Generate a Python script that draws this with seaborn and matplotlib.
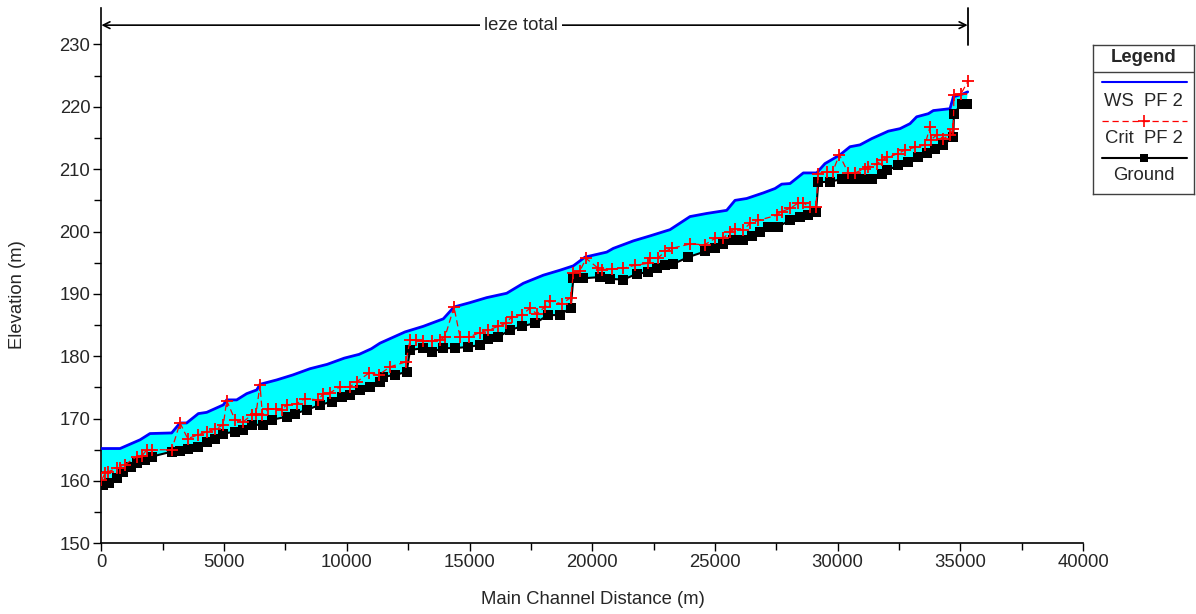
import numpy as np
import pandas as pd
import matplotlib
matplotlib.use("Agg")
import matplotlib.pyplot as plt
import seaborn as sns

# ---------------- data ----------------
ground_dist = [50, 300, 620, 893, 1200, 1438, 1777, 2050, 2865, 3203, 3543, 3950, 4290, 4630, 4970,
               5445, 5783, 6123, 6600, 6940, 7550, 7890, 8366, 8908, 9385, 9793, 10130, 10540, 10945,
               11350, 11488, 11964, 12441, 12576, 13118, 13460, 13933, 14400, 14952, 15428, 15766,
               16174, 16650, 17126, 17669, 18212, 18688, 19124, 19231, 19638, 20318, 20726, 21268,
               21813, 22287, 22628, 22967, 23305, 23916, 24597, 25004, 25343, 25750, 26158, 26500,
               26838, 27177, 27584, 28061, 28468, 28807, 29120, 29214, 29691, 30168, 30600, 30982,
               31390, 31797, 32001, 32475, 32882, 33290, 33630, 33969, 34309, 34716, 34740, 35057, 35261]
ground_elev = [159.4, 159.6, 160.4, 161.5, 162.3, 162.8, 163.4, 163.9, 164.7, 164.8, 165.2, 165.5, 166.3, 166.8, 167.6,
               167.9, 168.2, 169.0, 169.0, 169.8, 170.3, 170.8, 171.4, 172.2, 172.7, 173.5, 173.8, 174.6, 175.1,
               175.9, 176.7, 177.0, 177.5, 181.0, 181.3, 180.7, 181.3, 181.3, 181.5, 181.8, 182.7,
               183.1, 184.2, 184.8, 185.3, 186.6, 186.6, 187.8, 192.5, 192.5, 192.7, 192.4, 192.3,
               193.2, 193.5, 194.1, 194.7, 194.8, 195.9, 196.8, 197.3, 198.0, 198.6, 198.7, 199.3,
               200.0, 200.8, 200.8, 201.8, 202.3, 202.6, 203.2, 207.9, 208.0, 208.4, 208.4, 208.5,
               208.5, 209.3, 209.8, 210.6, 211.2, 212.0, 212.6, 213.3, 213.9, 215.2, 218.9, 220.5, 220.5]

ws_dist = [0, 760, 1577, 1980, 2864, 3203, 3475, 3950, 4290, 4970, 5105, 5513, 5920, 6330, 6463, 7143,
           7800, 8500, 9200, 9900, 10500, 11000, 11353, 12372, 13118, 13933, 14368, 15020, 15700, 16515,
           17193, 18008, 18688, 19231, 19707, 20591, 20861, 21406, 21676, 22356, 23171, 23986, 24666,
           25481, 25820, 26296, 26975, 27450, 27722, 28061, 28604, 29147, 29487, 30098, 30506, 30913,
           31390, 32067, 32543, 32950, 33222, 33697, 33901, 34580, 34716, 35123, 35302]
ws_elev = [165.2, 165.2, 166.6, 167.6, 167.7, 169.3, 169.3, 170.8, 171.0, 172.2, 173.0, 173.0, 174.0, 174.6, 175.5, 176.2,
           177.0, 178.0, 178.7, 179.7, 180.3, 181.2, 182.1, 183.9, 184.8, 186.0, 187.9, 188.6, 189.4, 190.1,
           191.7, 193.0, 193.8, 194.5, 195.9, 196.7, 197.3, 198.1, 198.5, 199.3, 200.3, 202.4, 202.9,
           203.4, 205.0, 205.3, 206.2, 206.9, 207.6, 207.7, 209.4, 209.4, 210.9, 212.3, 213.6, 213.9,
           214.9, 216.1, 216.5, 217.3, 218.4, 218.9, 219.4, 219.7, 221.6, 222.1, 222.4]

crit_dist = [0, 147, 282, 620, 750, 962, 1438, 1650, 1845, 2050, 2865, 3203, 3515, 3950, 4316, 4630, 4970,
             5105, 5445, 5783, 6123, 6300, 6463, 6560, 6803, 7100, 7346, 7550, 7958, 8297, 8840, 9043,
             9300, 9723, 10130, 10404, 10900, 11300, 11760, 12412, 12576, 12800, 13118, 13460, 13795,
             14000, 14368, 14612, 14992, 15428, 15766, 16174, 16488, 16720, 17126, 17465, 17737, 18077,
             18281, 18757, 19124, 19231, 19503, 19748, 20249, 20400, 20794, 21268, 21745, 22287, 22356,
             22695, 22967, 23240, 23986, 24597, 25004, 25343, 25615, 25820, 26158, 26431, 26770, 27518,
             27722, 28061, 28400, 28604, 28875, 29120, 29214, 29555, 29800, 30070, 30437, 30710, 31117,
             31252, 31594, 31797, 32027, 32475, 32747, 33154, 33561, 33765, 33800, 34037, 34309, 34580,
             34716, 34740, 35030, 35326]
crit_elev = [160.1, 161.2, 161.5, 162.0, 162.1, 162.6, 163.9, 164.0, 165.0, 165.0, 165.0, 169.3, 166.8, 167.4, 167.9, 168.3, 169.0,
             172.9, 169.8, 169.5, 170.6, 170.8, 175.4, 170.6, 171.6, 171.6, 171.4, 172.2, 172.4, 173.2, 173.0, 174.0,
             174.1, 175.1, 175.1, 175.9, 177.3, 177.0, 178.3, 179.1, 182.6, 182.6, 182.4, 182.4, 182.6,
             183.1, 187.9, 183.1, 183.1, 183.8, 184.2, 184.8, 185.3, 186.3, 186.6, 187.7, 186.8, 187.9,
             188.9, 188.4, 189.4, 193.4, 193.7, 195.7, 194.1, 193.9, 194.0, 194.1, 194.6, 194.9, 195.7,
             195.8, 196.8, 197.3, 198.0, 197.9, 198.9, 198.9, 200.0, 200.4, 200.3, 201.3, 201.8, 202.6,
             203.2, 203.7, 204.6, 204.6, 203.9, 204.0, 209.3, 209.6, 209.6, 212.3, 209.4, 209.4, 210.1,
             210.4, 210.8, 211.5, 211.9, 212.5, 213.1, 213.5, 213.9, 216.8, 214.7, 215.5, 214.9, 215.5,
             216.5, 221.9, 222.1, 224.2]

x_ticks = [0, 5000, 10000, 15000, 20000, 25000, 30000, 35000, 40000]
y_ticks = [150, 160, 170, 180, 190, 200, 210, 220, 230]
legend_labels = ["WS  PF 2", "Crit  PF 2", "Ground"]
reach_label = "leze total"
reach_start, reach_end = 0, 35300

# ---------------- plot ----------------
sns.set_style("white")
plt.rcParams["font.family"] = ["Liberation Sans", "DejaVu Sans"]
FS = 13.3

W, H = 1196, 614
fig = plt.figure(figsize=(W / 100, H / 100), dpi=100)
ax = fig.add_axes([101.4 / W, 1 - 543.3 / H, (1083 - 101.4) / W, (543.3 - 8) / H])

gdf = pd.DataFrame({"dist": ground_dist, "elev": ground_elev})
wdf = pd.DataFrame({"dist": ws_dist, "elev": ws_elev})
cdf = pd.DataFrame({"dist": crit_dist, "elev": crit_elev})

# water fill between WS and ground
ax.fill(np.concatenate([wdf["dist"].values, gdf["dist"].values[::-1]]),
        np.concatenate([wdf["elev"].values, gdf["elev"].values[::-1]]),
        color="#00FFFF", lw=0, zorder=1)

sns.lineplot(data=wdf, x="dist", y="elev", sort=False, estimator=None, ax=ax,
             color="#0000FF", lw=2, zorder=3)
sns.lineplot(data=gdf, x="dist", y="elev", sort=False, estimator=None, ax=ax,
             color="black", lw=1.5, marker="s", markersize=7, markeredgewidth=0,
             markerfacecolor="black", markeredgecolor="black", zorder=4)
sns.lineplot(data=cdf, x="dist", y="elev", sort=False, estimator=None, ax=ax,
             color="#FF0000", lw=0.9, linestyle=(0, (5, 3)), marker="+", markersize=8,
             markeredgewidth=1.3, markeredgecolor="#FF0000", markerfacecolor="#FF0000",
             zorder=5)

ax.set_xlim(0, 40000)
ax.set_ylim(150, 235.85)
ax.set_xticks(x_ticks)
ax.set_yticks(y_ticks)
ax.set_xticks(np.arange(2500, 40000, 5000), minor=True)
ax.set_yticks(np.arange(155, 235, 10), minor=True)
ax.set_xticklabels([str(t) for t in x_ticks])
ax.set_yticklabels([str(t) for t in y_ticks])
ax.tick_params(axis="both", which="both", direction="out", color="black", width=1,
               labelsize=FS, pad=2, bottom=True, left=True)
ax.tick_params(which="major", length=6)
ax.tick_params(which="minor", length=5)
for s in ["top", "right"]:
    ax.spines[s].set_visible(False)
for s in ["left", "bottom"]:
    ax.spines[s].set_color("black")
    ax.spines[s].set_linewidth(1.2)

ax.set_xlabel("Main Channel Distance (m)", fontsize=FS)
ax.set_ylabel("Elevation (m)", fontsize=FS)
ax.xaxis.set_label_coords(0.5003, (543.3 - 600) / 535.3)
ax.xaxis.label.set_va("center")
ax.yaxis.set_label_coords((18 - 101.4) / 981.6, (543.3 - 295) / 535.3)
ax.yaxis.label.set_va("center")

# reach annotation
ya = 233.1
ax.annotate("", xy=(reach_start, ya), xytext=(reach_end, ya),
            arrowprops=dict(arrowstyle="<->", color="black", lw=1.2, shrinkA=0, shrinkB=0,
                            mutation_scale=12), annotation_clip=False)
ax.plot([reach_end, reach_end], [229.9, 235.85], color="black", lw=1.3, clip_on=False)
ax.text(17100, ya, reach_label, ha="center", va="center", fontsize=FS,
        bbox=dict(facecolor="white", edgecolor="none", pad=3))

# legend box (pixel-like coordinates)
lx0, ly0, lx1, ly1 = 1093, 45, 1194, 194
lax = fig.add_axes([lx0 / W, 1 - ly1 / H, (lx1 - lx0) / W, (ly1 - ly0) / H])
lax.set_xlim(0, lx1 - lx0)
lax.set_ylim(ly1 - ly0, 0)
lax.set_xticks([])
lax.set_yticks([])
for s in lax.spines.values():
    s.set_visible(True)
    s.set_color("#404040")
    s.set_linewidth(1)
lax.axhline(72 - ly0, color="#404040", lw=1)
cx = (lx1 - lx0) / 2
lax.text(cx, 58 - ly0, "Legend", ha="center", va="center", fontsize=FS, fontweight="bold")
xs = [1102 - lx0, 1187 - lx0]
lax.plot(xs, [82 - ly0] * 2, color="#0000FF", lw=1.5)
lax.text(cx, 102 - ly0, legend_labels[0], ha="center", va="center", fontsize=FS)
lax.plot(xs, [121 - ly0] * 2, color="#FF0000", lw=0.9, linestyle=(0, (5, 3)))
lax.plot([cx], [121 - ly0], color="#FF0000", marker="+", markersize=8, mew=1.2)
lax.text(cx, 139 - ly0, legend_labels[1], ha="center", va="center", fontsize=FS)
lax.plot(xs, [158 - ly0] * 2, color="black", lw=1.5)
lax.plot([cx], [158 - ly0], color="black", marker="s", markersize=6, mew=0)
lax.text(cx, 176 - ly0, legend_labels[2], ha="center", va="center", fontsize=FS)

fig.savefig("out.png", dpi=100)
